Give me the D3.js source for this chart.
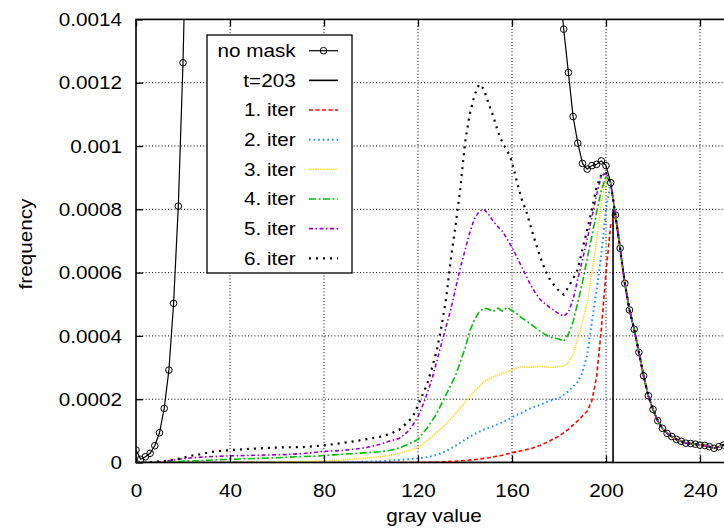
<!DOCTYPE html>
<html>
<head>
<meta charset="utf-8">
<script src="https://cdn.jsdelivr.net/npm/d3@7"></script>
<style>
  html, body { margin: 0; padding: 0; background: #fff; }
  svg { display: block; }
  text { font-family: "Liberation Sans", Arial, Helvetica, sans-serif; font-size: 18.5px; fill: #000; }
</style>
</head>
<body>
<svg id="chart" width="724" height="528"></svg>
<script>
// ---------------- data ----------------
const xTicks = [0, 40, 80, 120, 160, 200, 240];
const xTickLabels = ["0", "40", "80", "120", "160", "200", "240"];
const yTicks = [0, 0.0002, 0.0004, 0.0006, 0.0008, 0.001, 0.0012, 0.0014];
const yTickLabels = ["0", "0.0002", "0.0004", "0.0006", "0.0008", "0.001", "0.0012", "0.0014"];
const seriesNames = ["no mask", "t=203", "1. iter", "2. iter", "3. iter", "4. iter", "5. iter", "6. iter"];

// shared right tail (gray >= 204), identical for all curves
const tailX = [204,206,208,210,212,214,216,218,220,222,224,226,228,230,232,234,236,238,240,242,244,246,248,250,252,254];
const tailY = [7.82e-4,6.77e-4,5.66e-4,4.82e-4,4.21e-4,3.48e-4,2.74e-4,2.11e-4,1.68e-4,1.32e-4,1.08e-4,0.92e-4,0.82e-4,0.73e-4,0.67e-4,0.61e-4,0.60e-4,0.58e-4,0.55e-4,0.54e-4,0.50e-4,0.45e-4,0.50e-4,0.55e-4,0.58e-4,0.60e-4];

// no mask (values between ~22 and ~180 are far above the plotted range)
const noMaskX = [0,2,4,6,8,10,12,14,16,18,20,22,26,40,80,120,150,170,176,178,180,182,184,186,188,190,192,194,196,198,200,202];
const noMaskY = [0.395e-4,0.10e-4,0.18e-4,0.29e-4,0.53e-4,0.94e-4,1.71e-4,2.92e-4,5.03e-4,8.10e-4,12.63e-4,19e-4,40e-4,100e-4,150e-4,200e-4,150e-4,50e-4,25e-4,19e-4,15.3e-4,13.69e-4,12.32e-4,10.93e-4,10.09e-4,9.45e-4,9.27e-4,9.38e-4,9.42e-4,9.53e-4,9.38e-4,8.84e-4];

// threshold t=203
const t203X = [0, 203, 203];
const t203Y = [0, 0, 8.0e-4];

// 1. iter
const iter1X = [0,120,128,136,144,150,156,160,164,168,172,176,180,184,188,190,192,194,196,198,200,202];
const iter1Y = [0,0,0.01e-4,0.04e-4,0.09e-4,0.15e-4,0.23e-4,0.31e-4,0.37e-4,0.44e-4,0.54e-4,0.68e-4,0.83e-4,1.05e-4,1.32e-4,1.47e-4,1.62e-4,1.95e-4,2.7e-4,4.2e-4,6.0e-4,7.5e-4];

// 2. iter
const iter2X = [0,80,96,104,112,120,124,128,132,136,140,144,148,152,156,160,164,168,172,176,180,184,188,190,192,194,196,198,200,202];
const iter2Y = [0,0,0.02e-4,0.04e-4,0.08e-4,0.13e-4,0.17e-4,0.24e-4,0.36e-4,0.53e-4,0.72e-4,0.9e-4,1.04e-4,1.15e-4,1.27e-4,1.43e-4,1.57e-4,1.72e-4,1.82e-4,1.95e-4,2.03e-4,2.25e-4,2.55e-4,2.85e-4,3.4e-4,4.45e-4,5.45e-4,6.55e-4,8.0e-4,8.84e-4];

// 3. iter
const iter3X = [0,40,60,70,80,88,96,104,110,116,120,124,128,132,136,140,144,148,152,156,160,164,168,172,176,180,182,184,186,188,190,192,194,196,198,200,202];
const iter3Y = [0,0,0.02e-4,0.03e-4,0.05e-4,0.08e-4,0.13e-4,0.18e-4,0.25e-4,0.37e-4,0.47e-4,0.7e-4,0.95e-4,1.22e-4,1.55e-4,1.9e-4,2.25e-4,2.55e-4,2.7e-4,2.82e-4,2.93e-4,3.03e-4,3.0e-4,3.04e-4,3.0e-4,3.03e-4,3.05e-4,3.15e-4,3.4e-4,3.9e-4,4.45e-4,5.05e-4,6.0e-4,7.0e-4,8.2e-4,9.0e-4,8.84e-4];

// 4. iter
const iter4X = [0,12,16,20,28,36,44,52,60,68,76,84,92,100,104,108,112,116,120,124,128,132,136,140,142,144,146,148,150,152,154,156,158,160,162,164,166,168,170,172,174,176,178,180,182,184,186,188,190,192,194,196,198,200,202];
const iter4Y = [0,0,0.02e-4,0.04e-4,0.06e-4,0.09e-4,0.11e-4,0.13e-4,0.15e-4,0.18e-4,0.2e-4,0.24e-4,0.28e-4,0.32e-4,0.34e-4,0.38e-4,0.46e-4,0.58e-4,0.73e-4,1.1e-4,1.55e-4,2.15e-4,2.75e-4,3.6e-4,4.15e-4,4.5e-4,4.75e-4,4.88e-4,4.85e-4,4.77e-4,4.88e-4,4.78e-4,4.9e-4,4.8e-4,4.7e-4,4.58e-4,4.48e-4,4.37e-4,4.26e-4,4.15e-4,4.05e-4,3.97e-4,3.93e-4,3.9e-4,3.83e-4,4.05e-4,4.45e-4,5.05e-4,5.7e-4,6.45e-4,7.15e-4,7.9e-4,8.6e-4,9.05e-4,8.84e-4];

// 5. iter
const iter5X = [0,8,12,16,20,24,30,40,52,64,72,80,88,96,100,104,108,112,116,118,120,122,124,126,128,130,132,134,136,138,140,142,144,146,148,150,152,154,156,158,160,162,164,166,168,170,172,174,176,178,180,182,184,186,188,190,192,194,196,198,200,202];
const iter5Y = [0,0,0.03e-4,0.08e-4,0.12e-4,0.15e-4,0.18e-4,0.21e-4,0.23e-4,0.25e-4,0.29e-4,0.35e-4,0.38e-4,0.45e-4,0.5e-4,0.58e-4,0.68e-4,0.76e-4,1.0e-4,1.2e-4,1.45e-4,1.8e-4,2.2e-4,2.65e-4,3.2e-4,3.75e-4,4.3e-4,4.85e-4,5.5e-4,6.15e-4,6.7e-4,7.25e-4,7.7e-4,7.93e-4,8.0e-4,7.85e-4,7.62e-4,7.45e-4,7.3e-4,7.05e-4,6.8e-4,6.5e-4,6.2e-4,5.9e-4,5.6e-4,5.35e-4,5.15e-4,5.02e-4,4.9e-4,4.8e-4,4.7e-4,4.62e-4,4.75e-4,5.15e-4,5.8e-4,6.4e-4,7.05e-4,7.75e-4,8.45e-4,9.05e-4,9.15e-4,8.84e-4];

// 6. iter
const iter6X = [0,4,8,12,16,20,24,28,32,36,40,48,56,64,72,80,84,88,92,96,100,104,108,112,116,118,120,122,124,126,128,130,132,134,136,138,140,142,144,146,148,150,152,154,156,158,160,162,164,166,168,170,172,174,176,178,180,182,184,186,188,190,192,194,196,198,200,202];
const iter6Y = [0,0,0.02e-4,0.05e-4,0.08e-4,0.15e-4,0.22e-4,0.27e-4,0.33e-4,0.37e-4,0.39e-4,0.43e-4,0.46e-4,0.48e-4,0.49e-4,0.54e-4,0.58e-4,0.62e-4,0.66e-4,0.71e-4,0.76e-4,0.82e-4,0.9e-4,1.03e-4,1.3e-4,1.48e-4,1.8e-4,2.15e-4,2.5e-4,3.0e-4,3.55e-4,4.3e-4,5.2e-4,6.45e-4,7.5e-4,8.65e-4,10.1e-4,11.0e-4,11.6e-4,11.95e-4,11.8e-4,11.35e-4,10.95e-4,10.45e-4,10.1e-4,9.85e-4,9.5e-4,8.9e-4,8.35e-4,7.95e-4,7.45e-4,6.95e-4,6.5e-4,6.1e-4,5.8e-4,5.6e-4,5.42e-4,5.3e-4,5.55e-4,5.8e-4,6.1e-4,6.75e-4,7.35e-4,8.0e-4,8.7e-4,9.1e-4,9.15e-4,8.84e-4];

// ---------------- build table ----------------
function zipSeries(xs, ys, withTail) {
  const pts = xs.map((x, i) => [x, ys[i]]);
  if (withTail) tailX.forEach((x, i) => pts.push([x, tailY[i]]));
  return pts;
}
const styles = [
  { color: "#000000", width: 1.2, dash: null, markers: true },
  { color: "#000000", width: 1.6, dash: null },
  { color: "#ff0000", width: 1.6, dash: "4,2.5" },
  { color: "#1e90ff", width: 2, dash: "1.6,3" },
  { color: "#ffd700", width: 1.5, dash: "1.2,1" },
  { color: "#00c000", width: 1.6, dash: "7,2.5,2,2.5" },
  { color: "#9400d3", width: 1.6, dash: "4,2.5,1.5,2.5" },
  { color: "#000000", width: 2.2, dash: "2,5" }
];
const seriesData = [
  zipSeries(noMaskX, noMaskY, true),
  zipSeries(t203X, t203Y, true),
  zipSeries(iter1X, iter1Y, true),
  zipSeries(iter2X, iter2Y, true),
  zipSeries(iter3X, iter3Y, true),
  zipSeries(iter4X, iter4Y, true),
  zipSeries(iter5X, iter5Y, true),
  zipSeries(iter6X, iter6Y, true)
];

// ---------------- layout ----------------
const svg = d3.select("#chart");
const L = 136, T = 19.4, B = 462.5, R = 735.25;
const SX = 1.12; // horizontal glyph stretch

const x = d3.scaleLinear().domain([0, 255]).range([L, R]);
const y = d3.scaleLinear().domain([0, 0.0014]).range([B, T]);

svg.append("defs").append("clipPath").attr("id", "plotclip")
  .append("rect").attr("x", L).attr("y", T).attr("width", R - L).attr("height", B - T);

// grid
const grid = svg.append("g");
grid.selectAll("line.gx").data(xTicks.filter(d => d > 0)).join("line")
  .attr("x1", d => x(d)).attr("x2", d => x(d)).attr("y1", T).attr("y2", B)
  .attr("stroke", "#000").attr("stroke-width", 1).attr("stroke-dasharray", "1,2.2");
grid.selectAll("line.gy").data(yTicks.filter(d => d > 0 && d < 0.0014)).join("line")
  .attr("y1", d => y(d)).attr("y2", d => y(d)).attr("x1", L).attr("x2", R)
  .attr("stroke", "#000").attr("stroke-width", 1).attr("stroke-dasharray", "1,2.2");

// series
const plot = svg.append("g").attr("clip-path", "url(#plotclip)");
const line = d3.line().x(d => x(d[0])).y(d => y(d[1]));
seriesData.forEach((pts, i) => {
  const s = styles[i];
  plot.append("path").datum(pts).attr("d", line)
    .attr("fill", "none").attr("stroke", s.color).attr("stroke-width", s.width)
    .attr("stroke-linejoin", "round")
    .attr("stroke-dasharray", s.dash);
  if (s.markers) {
    plot.append("g").selectAll("circle").data(pts).join("circle")
      .attr("cx", d => x(d[0])).attr("cy", d => y(d[1])).attr("r", 3.3)
      .attr("fill", "none").attr("stroke", "#000").attr("stroke-width", 1);
  }
});

// axes (inward ticks)
const yAxis = svg.append("g").attr("transform", `translate(${L},0)`)
  .call(d3.axisLeft(y).tickValues(yTicks).tickFormat((d, i) => yTickLabels[i])
    .tickSizeInner(-7).tickSizeOuter(0).tickPadding(14));
yAxis.select(".domain").remove();
yAxis.selectAll(".tick line").attr("stroke-width", 1.3);
yAxis.selectAll(".tick text").attr("font-size", null).attr("font-family", null)
  .attr("x", -14 / SX).attr("dy", "0.34em").attr("transform", `scale(${SX},1)`);

const xAxis = svg.append("g").attr("transform", `translate(0,${B})`)
  .call(d3.axisBottom(x).tickValues(xTicks).tickFormat((d, i) => xTickLabels[i])
    .tickSizeInner(-7).tickSizeOuter(0).tickPadding(21));
xAxis.select(".domain").remove();
xAxis.selectAll(".tick line").attr("stroke-width", 1.3);
xAxis.selectAll(".tick text").attr("font-size", null).attr("font-family", null)
  .attr("transform", `scale(${SX},1)`);

const topAxis = svg.append("g").attr("transform", `translate(0,${T})`)
  .call(d3.axisTop(x).tickValues(xTicks).tickFormat("").tickSizeInner(-7).tickSizeOuter(0));
topAxis.select(".domain").remove();
topAxis.selectAll(".tick line").attr("stroke-width", 1.3);

// frame
svg.append("rect").attr("x", L).attr("y", T).attr("width", R - L).attr("height", B - T)
  .attr("fill", "none").attr("stroke", "#000").attr("stroke-width", 1.6);

// axis titles
svg.append("text").attr("text-anchor", "middle")
  .attr("transform", `translate(${(L + 724) / 2 + 4},522) scale(${SX},1)`).text("gray value");
svg.append("text").attr("text-anchor", "middle")
  .attr("transform", `translate(32,244) rotate(-90) scale(${SX},1)`).text("frequency");

// legend
const leg = svg.append("g");
leg.append("rect").attr("x", 207).attr("y", 35).attr("width", 145).attr("height", 238)
  .attr("fill", "#fff").attr("stroke", "#000").attr("stroke-width", 1.3);
const rowY = d3.scaleLinear().domain([0, 7]).range([50.7, 258.3]);
seriesNames.forEach((name, i) => {
  const s = styles[i];
  const yy = rowY(i);
  leg.append("text").attr("text-anchor", "end")
    .attr("transform", `translate(295.7,${yy + 6.4}) scale(${SX},1)`).text(name);
  leg.append("line").attr("x1", 309).attr("x2", 338).attr("y1", yy).attr("y2", yy)
    .attr("stroke", s.color).attr("stroke-width", s.width).attr("stroke-dasharray", s.dash);
  if (s.markers) {
    leg.append("circle").attr("cx", 323.5).attr("cy", yy).attr("r", 3.3)
      .attr("fill", "none").attr("stroke", "#000").attr("stroke-width", 1);
  }
});
</script>
</body>
</html>
